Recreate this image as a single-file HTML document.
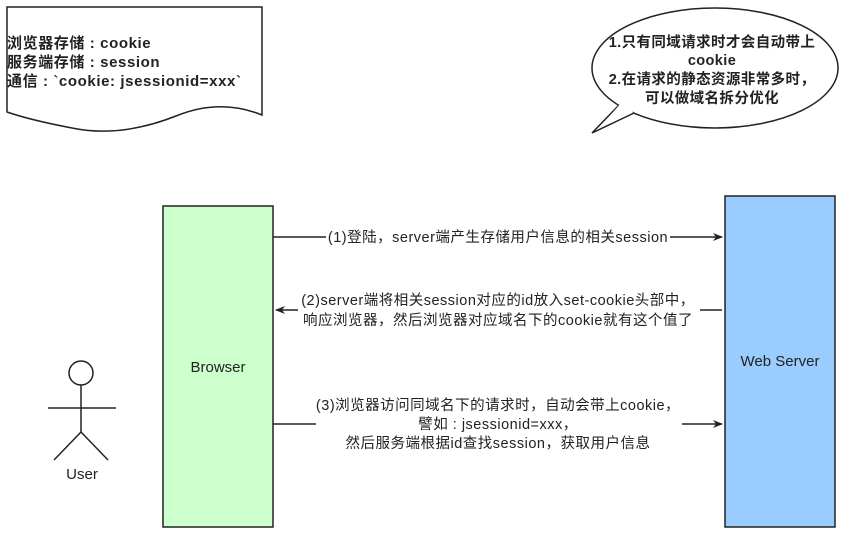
<!DOCTYPE html>
<html><head><meta charset="utf-8"><style>body{margin:0;background:#fff}svg{display:block}text{font-family:"Liberation Sans","Noto Sans CJK SC",sans-serif;fill:#222}</style></head><body>
<svg width="852" height="537" viewBox="0 0 852 537" xmlns="http://www.w3.org/2000/svg">
<defs><marker id="a" markerWidth="10" markerHeight="8" refX="9" refY="4" orient="auto" markerUnits="userSpaceOnUse"><path d="M0,0 L10,4 L0,8 L3,4z" fill="#222"/></marker></defs>
<path d="M7,7 H262 V115 Q220,98 176,116 Q120,138 72,128 Q30,120 7,112 Z" fill="#fff" stroke="#222" stroke-width="1.5"/>
<g font-size="15" font-weight="bold" letter-spacing="0.6"><text x="7" y="48">浏览器存储 : cookie</text><text x="7" y="67">服务端存储 : session</text><text x="7" y="86">通信 : `cookie: jsessionid=xxx`</text></g>
<ellipse cx="715" cy="68" rx="123" ry="60" fill="#fff" stroke="#222" stroke-width="1.5"/>
<path d="M619,105 L592,133 L634,113" fill="#fff" stroke="#222" stroke-width="1.5"/>
<path d="M621,103 L600,127 L636,110 Z" fill="#fff"/>
<g font-size="14.5" font-weight="bold" text-anchor="middle" letter-spacing="0.4"><text x="712" y="47">1.只有同域请求时才会自动带上</text><text x="712" y="65">cookie</text><text x="712" y="84">2.在请求的静态资源非常多时，</text><text x="712" y="103">可以做域名拆分优化</text></g>
<rect x="163" y="206" width="110" height="321" fill="#ccffcc" stroke="#222" stroke-width="1.5"/>
<text x="218" y="372" font-size="15" text-anchor="middle">Browser</text>
<rect x="725" y="196" width="110" height="331" fill="#99ccff" stroke="#222" stroke-width="1.5"/>
<text x="780" y="366" font-size="15" text-anchor="middle">Web Server</text>
<circle cx="81" cy="373" r="12" fill="#fff" stroke="#222" stroke-width="1.5"/>
<g stroke="#222" stroke-width="1.5"><line x1="81" y1="385" x2="81" y2="432"/><line x1="48" y1="408" x2="116" y2="408"/><line x1="81" y1="432" x2="54" y2="460"/><line x1="81" y1="432" x2="108" y2="460"/></g>
<text x="82" y="479" font-size="15" text-anchor="middle">User</text>
<g stroke="#222" stroke-width="1.5" fill="none">
<line x1="273" y1="237" x2="326" y2="237"/><line x1="670" y1="237" x2="722" y2="237" marker-end="url(#a)"/>
<line x1="298" y1="310" x2="276" y2="310" marker-end="url(#a)"/><line x1="722" y1="310" x2="700" y2="310"/>
<line x1="273" y1="424" x2="316" y2="424"/><line x1="682" y1="424" x2="722" y2="424" marker-end="url(#a)"/>
</g>
<g font-size="14.5" text-anchor="middle" letter-spacing="0.5">
<text x="498" y="242">(1)登陆，server端产生存储用户信息的相关session</text>
<text x="498" y="305">(2)server端将相关session对应的id放入set-cookie头部中，</text>
<text x="498" y="325">响应浏览器，然后浏览器对应域名下的cookie就有这个值了</text>
<text x="498" y="410">(3)浏览器访问同域名下的请求时，自动会带上cookie，</text>
<text x="498" y="429">譬如 : jsessionid=xxx，</text>
<text x="498" y="448">然后服务端根据id查找session，获取用户信息</text>
</g>
</svg>
</body></html>
